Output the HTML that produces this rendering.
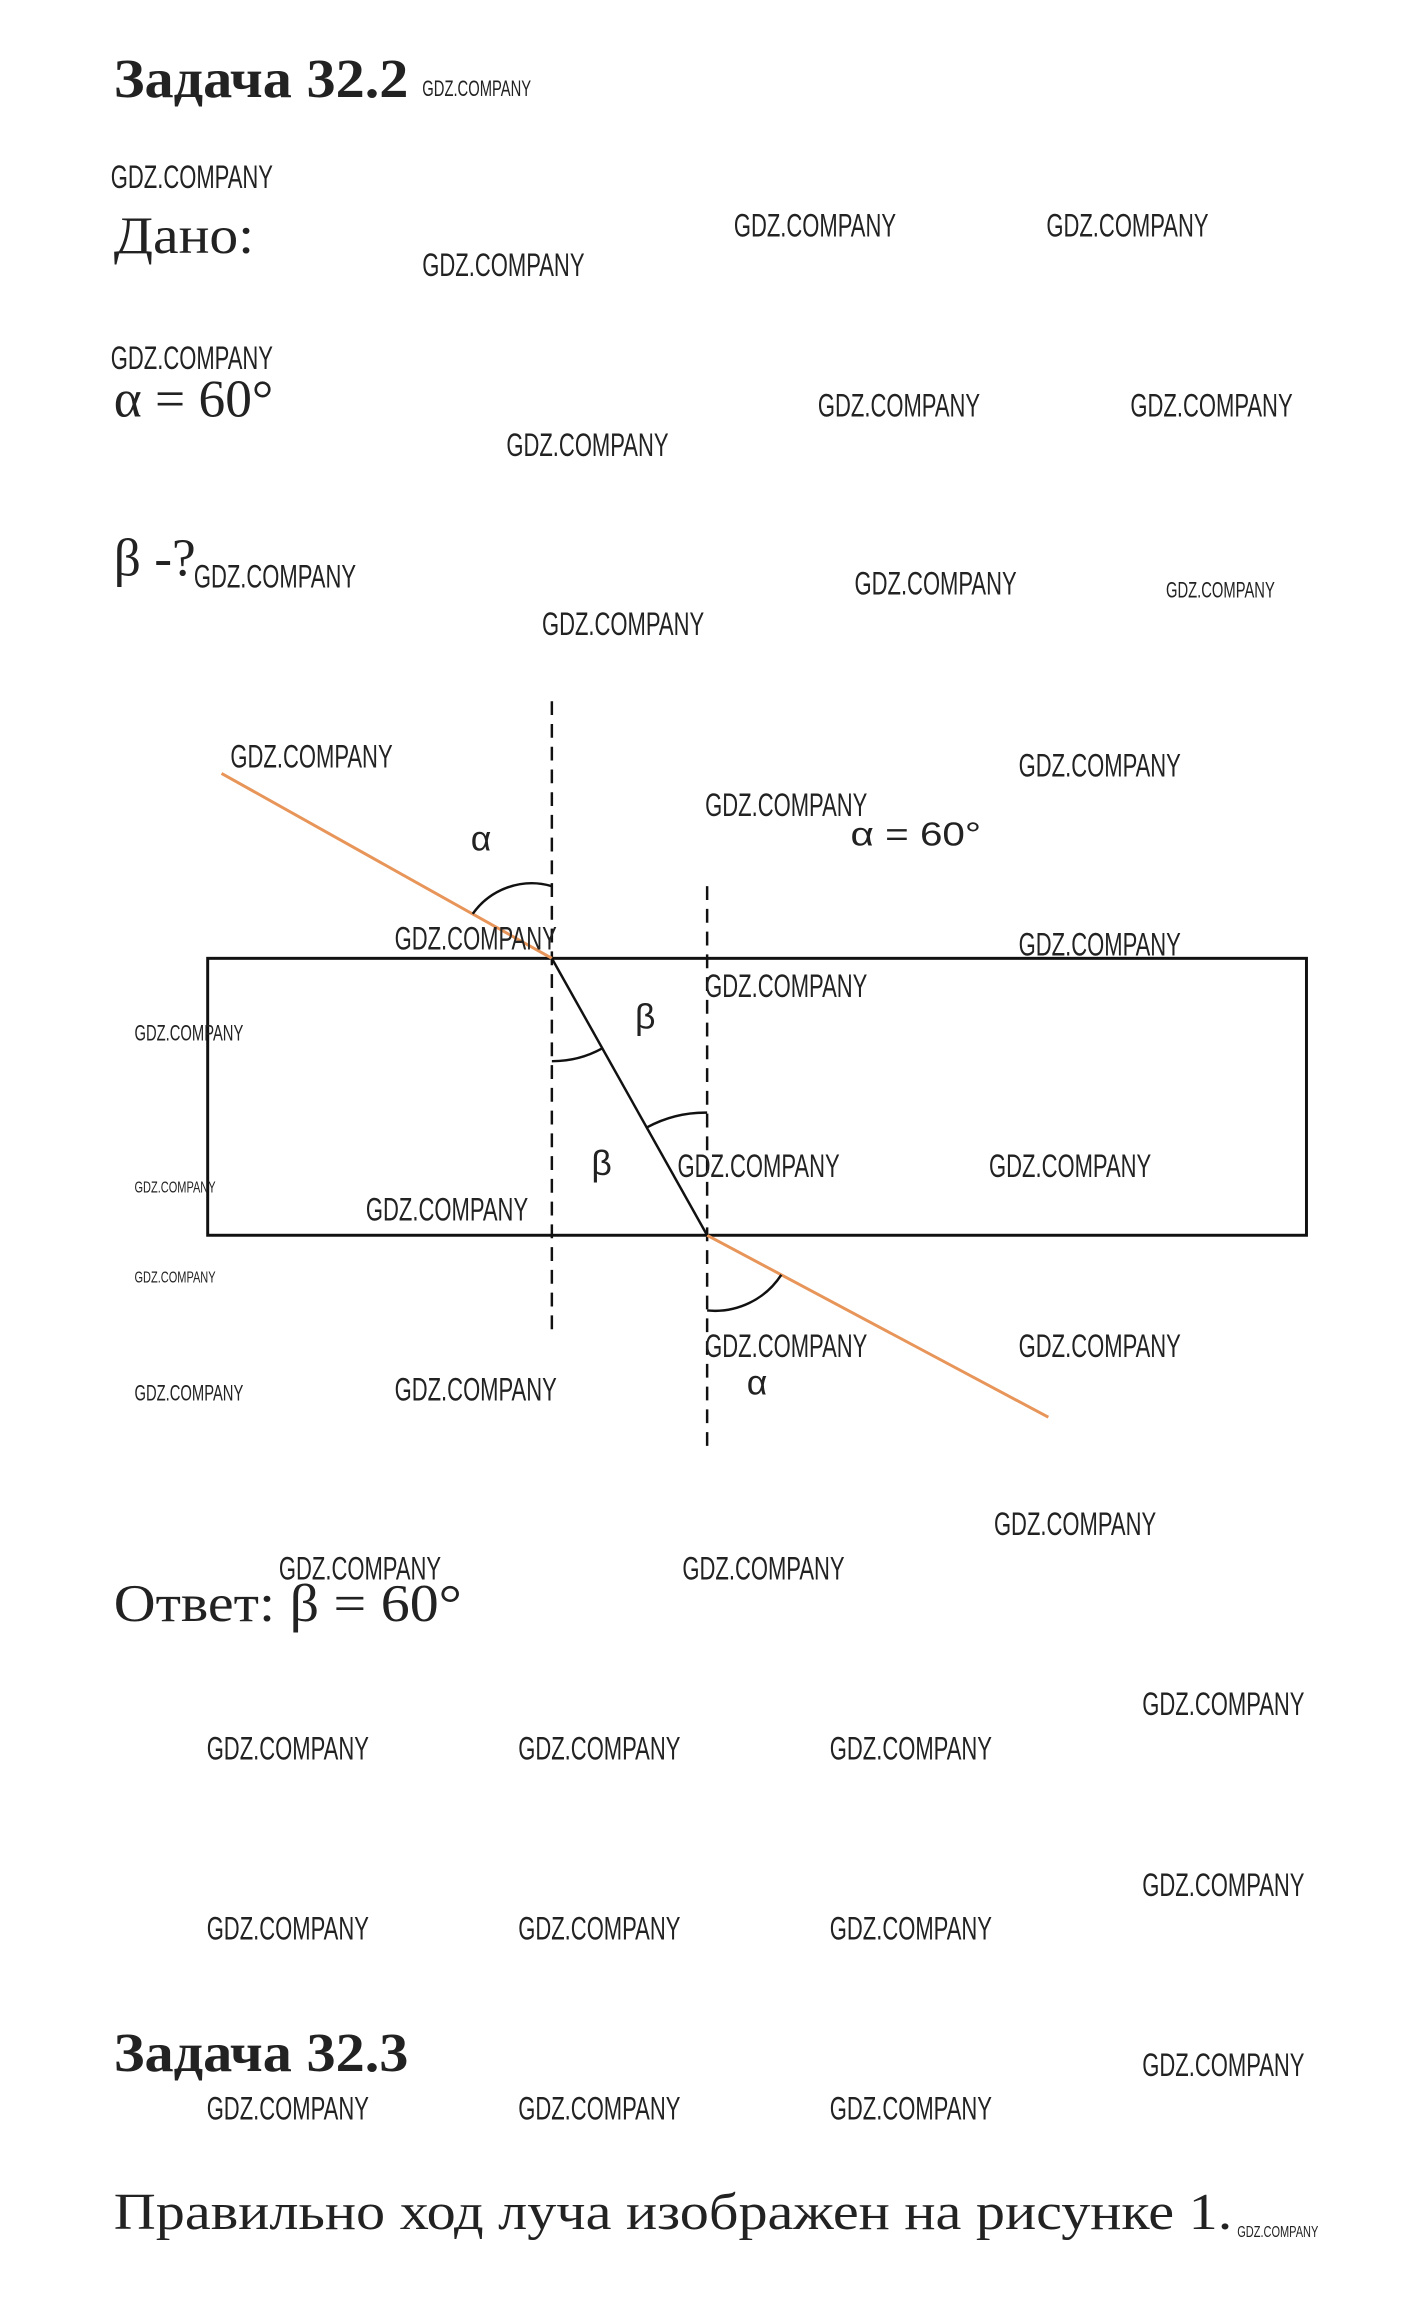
<!DOCTYPE html>
<html><head><meta charset="utf-8"><style>
html,body{margin:0;padding:0;background:#fff;}
svg{display:block}
.w{font-family:"Liberation Sans",sans-serif;fill:#222;}
.t{font-family:"Liberation Serif","Noto Serif CJK SC",serif;fill:#222;}
</style></head><body>
<svg width="1403" height="2315" viewBox="0 0 1403 2315" xmlns="http://www.w3.org/2000/svg">
<rect width="1403" height="2315" fill="#fff"/>
<g transform="scale(0.989)">
<text class="t" x="115" y="98" font-size="56" font-weight="bold" textLength="298" lengthAdjust="spacingAndGlyphs">Задача 32.2</text>
<text class="t" x="115" y="256" font-size="54" textLength="142" lengthAdjust="spacingAndGlyphs">Дано:</text>
<text class="t" x="115" y="421" font-size="54">α = 60°</text>
<text class="t" x="115" y="582" font-size="54">β -?</text>
<text class="t" x="115" y="1639" font-size="54" textLength="352" lengthAdjust="spacingAndGlyphs">Ответ: β = 60°</text>
<text class="t" x="115" y="2094" font-size="56" font-weight="bold" textLength="298" lengthAdjust="spacingAndGlyphs">Задача 32.3</text>
<text class="t" x="115" y="2254" font-size="52" textLength="1131" lengthAdjust="spacingAndGlyphs">Правильно ход луча изображен на рисунке 1.</text>

<rect x="210" y="969" width="1111" height="280" fill="none" stroke="#111" stroke-width="3"/>
<line x1="558" y1="709" x2="558" y2="1351" stroke="#111" stroke-width="2.5" stroke-dasharray="14,9"/>
<line x1="715" y1="896" x2="715" y2="1467" stroke="#111" stroke-width="2.5" stroke-dasharray="14,9"/>
<line x1="224" y1="782" x2="558" y2="969" stroke="#e8955a" stroke-width="3"/>
<line x1="715" y1="1249" x2="1060" y2="1433" stroke="#e8955a" stroke-width="3"/>
<line x1="558" y1="969" x2="715" y2="1249" stroke="#111" stroke-width="2.5"/>
<path d="M558 896 A73 73 0 0 0 478 924" fill="none" stroke="#111" stroke-width="2.5"/>
<path d="M558 1073 A104 104 0 0 0 609 1060" fill="none" stroke="#111" stroke-width="2.5"/>
<path d="M715 1125 A124 124 0 0 0 654 1140" fill="none" stroke="#111" stroke-width="2.5"/>
<path d="M715 1325 A80 80 0 0 0 790 1289" fill="none" stroke="#111" stroke-width="2.5"/>
<text class="w" x="476" y="860" font-size="36">α</text>
<text class="w" x="642" y="1040" font-size="36">β</text>
<text class="w" x="598" y="1188" font-size="36">β</text>
<text class="w" x="755" y="1410" font-size="36">α</text>
<text class="w" x="860" y="855" font-size="34" textLength="132" lengthAdjust="spacingAndGlyphs">α = 60°</text>

<g class="w" font-size="33">
<text x="112" y="190" textLength="164" lengthAdjust="spacingAndGlyphs">GDZ.COMPANY</text>
<text x="742" y="239" textLength="164" lengthAdjust="spacingAndGlyphs">GDZ.COMPANY</text>
<text x="1058" y="239" textLength="164" lengthAdjust="spacingAndGlyphs">GDZ.COMPANY</text>
<text x="427" y="279" textLength="164" lengthAdjust="spacingAndGlyphs">GDZ.COMPANY</text>
<text x="112" y="373" textLength="164" lengthAdjust="spacingAndGlyphs">GDZ.COMPANY</text>
<text x="827" y="421" textLength="164" lengthAdjust="spacingAndGlyphs">GDZ.COMPANY</text>
<text x="1143" y="421" textLength="164" lengthAdjust="spacingAndGlyphs">GDZ.COMPANY</text>
<text x="512" y="461" textLength="164" lengthAdjust="spacingAndGlyphs">GDZ.COMPANY</text>
<text x="196" y="594" textLength="164" lengthAdjust="spacingAndGlyphs">GDZ.COMPANY</text>
<text x="864" y="601" textLength="164" lengthAdjust="spacingAndGlyphs">GDZ.COMPANY</text>
<text x="548" y="642" textLength="164" lengthAdjust="spacingAndGlyphs">GDZ.COMPANY</text>
<text x="233" y="776" textLength="164" lengthAdjust="spacingAndGlyphs">GDZ.COMPANY</text>
<text x="1030" y="785" textLength="164" lengthAdjust="spacingAndGlyphs">GDZ.COMPANY</text>
<text x="713" y="825" textLength="164" lengthAdjust="spacingAndGlyphs">GDZ.COMPANY</text>
<text x="399" y="960" textLength="164" lengthAdjust="spacingAndGlyphs">GDZ.COMPANY</text>
<text x="1030" y="966" textLength="164" lengthAdjust="spacingAndGlyphs">GDZ.COMPANY</text>
<text x="713" y="1008" textLength="164" lengthAdjust="spacingAndGlyphs">GDZ.COMPANY</text>
<text x="685" y="1190" textLength="164" lengthAdjust="spacingAndGlyphs">GDZ.COMPANY</text>
<text x="1000" y="1190" textLength="164" lengthAdjust="spacingAndGlyphs">GDZ.COMPANY</text>
<text x="370" y="1234" textLength="164" lengthAdjust="spacingAndGlyphs">GDZ.COMPANY</text>
<text x="713" y="1372" textLength="164" lengthAdjust="spacingAndGlyphs">GDZ.COMPANY</text>
<text x="1030" y="1372" textLength="164" lengthAdjust="spacingAndGlyphs">GDZ.COMPANY</text>
<text x="399" y="1416" textLength="164" lengthAdjust="spacingAndGlyphs">GDZ.COMPANY</text>
<text x="1005" y="1552" textLength="164" lengthAdjust="spacingAndGlyphs">GDZ.COMPANY</text>
<text x="282" y="1597" textLength="164" lengthAdjust="spacingAndGlyphs">GDZ.COMPANY</text>
<text x="690" y="1597" textLength="164" lengthAdjust="spacingAndGlyphs">GDZ.COMPANY</text>
<text x="1155" y="1734" textLength="164" lengthAdjust="spacingAndGlyphs">GDZ.COMPANY</text>
<text x="209" y="1779" textLength="164" lengthAdjust="spacingAndGlyphs">GDZ.COMPANY</text>
<text x="524" y="1779" textLength="164" lengthAdjust="spacingAndGlyphs">GDZ.COMPANY</text>
<text x="839" y="1779" textLength="164" lengthAdjust="spacingAndGlyphs">GDZ.COMPANY</text>
<text x="1155" y="1917" textLength="164" lengthAdjust="spacingAndGlyphs">GDZ.COMPANY</text>
<text x="209" y="1961" textLength="164" lengthAdjust="spacingAndGlyphs">GDZ.COMPANY</text>
<text x="524" y="1961" textLength="164" lengthAdjust="spacingAndGlyphs">GDZ.COMPANY</text>
<text x="839" y="1961" textLength="164" lengthAdjust="spacingAndGlyphs">GDZ.COMPANY</text>
<text x="1155" y="2099" textLength="164" lengthAdjust="spacingAndGlyphs">GDZ.COMPANY</text>
<text x="209" y="2143" textLength="164" lengthAdjust="spacingAndGlyphs">GDZ.COMPANY</text>
<text x="524" y="2143" textLength="164" lengthAdjust="spacingAndGlyphs">GDZ.COMPANY</text>
<text x="839" y="2143" textLength="164" lengthAdjust="spacingAndGlyphs">GDZ.COMPANY</text>
</g>
<g class="w" font-size="22">
<text x="427" y="97" textLength="110" lengthAdjust="spacingAndGlyphs">GDZ.COMPANY</text>
<text x="1179" y="604" textLength="110" lengthAdjust="spacingAndGlyphs">GDZ.COMPANY</text>
<text x="136" y="1052" textLength="110" lengthAdjust="spacingAndGlyphs">GDZ.COMPANY</text>
<text x="136" y="1416" textLength="110" lengthAdjust="spacingAndGlyphs">GDZ.COMPANY</text>
</g>
<g class="w" font-size="16">
<text x="136" y="1206" textLength="82" lengthAdjust="spacingAndGlyphs">GDZ.COMPANY</text>
<text x="136" y="1297" textLength="82" lengthAdjust="spacingAndGlyphs">GDZ.COMPANY</text>
<text x="1251" y="2262" textLength="82" lengthAdjust="spacingAndGlyphs">GDZ.COMPANY</text>
</g>
</g>
</svg>
</body></html>
